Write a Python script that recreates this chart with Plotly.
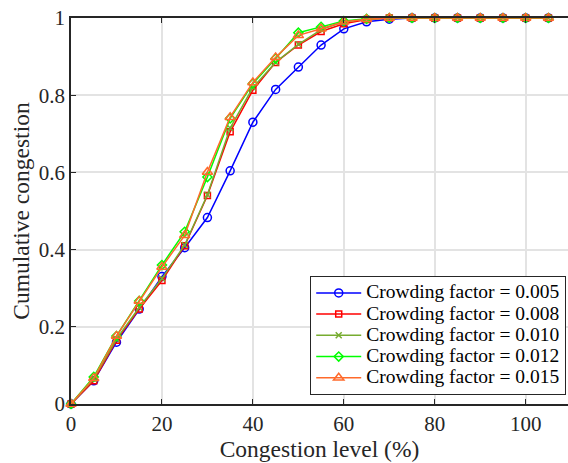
import plotly.graph_objects as go

x_vals = [0, 5, 10, 15, 20, 25, 30, 35, 40, 45, 50, 55, 60, 65, 70, 75, 80, 85, 90, 95, 100, 105]

cf_005 = [0, 0.060, 0.160, 0.246, 0.330, 0.405, 0.483, 0.604, 0.730, 0.815, 0.873, 0.930, 0.972, 0.990, 0.997, 1, 1, 1, 1, 1, 1, 1]
cf_008 = [0, 0.060, 0.165, 0.246, 0.320, 0.410, 0.540, 0.705, 0.813, 0.885, 0.930, 0.965, 0.985, 0.996, 1, 1, 1, 1, 1, 1, 1, 1]
cf_010 = [0, 0.065, 0.168, 0.250, 0.325, 0.412, 0.542, 0.715, 0.820, 0.885, 0.932, 0.970, 0.990, 0.997, 1, 1, 1, 1, 1, 1, 1, 1]
cf_012 = [0, 0.070, 0.176, 0.267, 0.360, 0.446, 0.588, 0.740, 0.830, 0.895, 0.962, 0.977, 0.992, 0.998, 1, 1, 1, 1, 1, 1, 1, 1]
cf_015 = [0, 0.067, 0.176, 0.267, 0.355, 0.437, 0.601, 0.743, 0.833, 0.898, 0.955, 0.972, 0.990, 0.997, 1, 1, 1, 1, 1, 1, 1, 1]

names = ["Crowding factor = 0.005", "Crowding factor = 0.008", "Crowding factor = 0.010",
         "Crowding factor = 0.012", "Crowding factor = 0.015"]
series = [cf_005, cf_008, cf_010, cf_012, cf_015]
colors = ["#0000FF", "#FF0000", "#77AC30", "#00FF00", "#FF6A2B"]
symbols = ["circle-open", "square-open", "x-thin-open", "diamond-open", "triangle-up-open"]
sizes = [8, 6, 6, 7, 9]

fig = go.Figure()
for n, s, c, sym, sz in zip(names, series, colors, symbols, sizes):
    fig.add_trace(go.Scatter(
        x=x_vals, y=s, mode="lines+markers",
        name='<span style="font-size:19.5px">' + n + '</span>',
        line=dict(color=c, width=1.5),
        marker=dict(symbol=sym, size=sz, color=c, line=dict(color=c, width=1.5)),
        cliponaxis=False,
    ))

font_family = "Liberation Serif"
axis_common = dict(
    showgrid=True, gridcolor="#E3E3E3", gridwidth=1.5,
    showline=True, linecolor="#262626", linewidth=1.5,
    ticks="inside", ticklen=5, tickcolor="#262626", tickwidth=1,
    tickfont=dict(family=font_family, size=21, color="#262626"),
    zeroline=False, automargin=False,
)

fig.update_xaxes(
    range=[0, 109.3], tickvals=[0, 20, 40, 60, 80, 100], mirror="ticks",
    title=dict(text="Congestion level (%)", font=dict(family=font_family, size=23.5, color="#262626"), standoff=5),
    **axis_common,
)
fig.update_yaxes(
    range=[0, 1], tickvals=[0, 0.2, 0.4, 0.6, 0.8, 1], ticktext=["0", "0.2", "0.4", "0.6", "0.8", "1"],
    title=dict(text="Cumulative congestion", font=dict(family=font_family, size=23.5, color="#262626"), standoff=3),
    **axis_common,
)

fig.update_layout(
    width=568, height=463,
    margin=dict(l=71, r=0, t=18, b=59, autoexpand=False),
    paper_bgcolor="white", plot_bgcolor="white",
    font=dict(family=font_family, color="#262626"),
    legend=dict(
        x=0.996, y=0.023, xanchor="right", yanchor="bottom",
        bgcolor="white", bordercolor="#262626", borderwidth=1.2,
        font=dict(family=font_family, size=14.0, color="#000000"),
        tracegroupgap=0, itemwidth=45,
    ),
    showlegend=True,
)

fig.write_html("out.html", config={"displayModeBar": False},
               post_script="document.body.style.margin='0';document.body.style.padding='0';")
